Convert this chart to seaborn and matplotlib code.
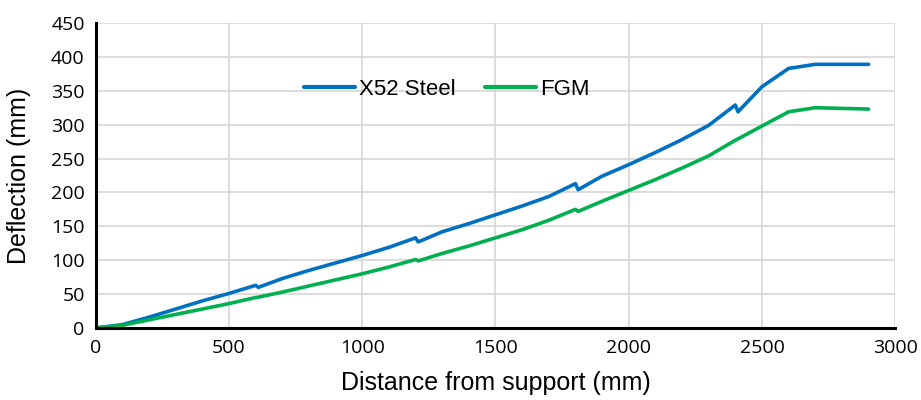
import matplotlib
matplotlib.use("Agg")
import matplotlib.pyplot as plt
import seaborn as sns
import pandas as pd

# Distance along the pipe from the support (mm); paired points mark the section joints
distance = [0, 100, 200, 300, 400, 500, 600, 610, 700, 800, 900, 1000, 1100,
            1200, 1210, 1300, 1400, 1500, 1600, 1700, 1800, 1810, 1900, 2000,
            2100, 2200, 2300, 2400, 2410, 2500, 2600, 2700, 2800, 2900]

# Deflection (mm)
x52_steel = [0, 5, 16, 28, 40, 51, 63, 60, 73, 85, 96, 107, 119,
             133, 127, 142, 154, 167, 180, 194, 213, 204, 224, 241,
             259, 278, 299, 329, 319, 356, 383, 389, 389, 389]
fgm = [0, 4, 12, 20, 28, 36, 45, 45.5, 53, 62, 71, 80, 90,
       101, 99, 110, 121, 133, 145, 159, 175, 172, 187, 203,
       219, 236, 254, 277, 279, 298, 319, 325, 324, 323]

series_names = ["X52 Steel", "FGM"]
colors = ["#0070C0", "#00B050"]

df = pd.concat([
    pd.DataFrame({"Distance": distance, "Deflection": x52_steel, "Material": series_names[0]}),
    pd.DataFrame({"Distance": distance, "Deflection": fgm, "Material": series_names[1]}),
], ignore_index=True)

sns.set_style("white")
plt.rcParams["font.family"] = ["Liberation Sans", "DejaVu Sans"]
plt.rcParams["text.color"] = "black"
plt.rcParams["axes.labelcolor"] = "black"
plt.rcParams["xtick.color"] = "black"
plt.rcParams["ytick.color"] = "black"

fig = plt.figure(figsize=(9.21, 4.0), dpi=100)
ax = fig.add_axes([0.104, 0.18, 0.868, 0.7625])

sns.lineplot(data=df, x="Distance", y="Deflection", hue="Material",
             palette=colors, hue_order=series_names, sort=False,
             estimator=None, linewidth=2.6, ax=ax)

ax.set_xlim(0, 3000)
ax.set_ylim(0, 450)
ax.set_xticks(range(0, 3001, 500))
ax.set_yticks(range(0, 451, 50))
ax.grid(True, color="#d9d9d9", linewidth=1.3)
ax.set_axisbelow(True)

for side in ["top", "right"]:
    ax.spines[side].set_visible(False)
for side in ["left", "bottom"]:
    ax.spines[side].set_color("black")
    ax.spines[side].set_linewidth(2.2)

ax.tick_params(axis="both", length=0, pad=8, colors="black")
for lbl in ax.get_xticklabels() + ax.get_yticklabels():
    lbl.set_fontfamily("Open Sans")
    lbl.set_fontsize(14)

ax.set_xlabel("Distance from support (mm)", fontsize=18, labelpad=10, color="black")
ax.set_ylabel("Deflection (mm)", fontsize=18, labelpad=14, color="black")

leg = ax.legend(loc="center", bbox_to_anchor=(0.439, 0.783), ncol=2, frameon=False,
                fontsize=16, handlelength=2.3, handletextpad=0.2, columnspacing=1.3)
for line in leg.get_lines():
    line.set_linewidth(3)
for txt in leg.get_texts():
    txt.set_color("black")

fig.savefig("out.png", dpi=100)
